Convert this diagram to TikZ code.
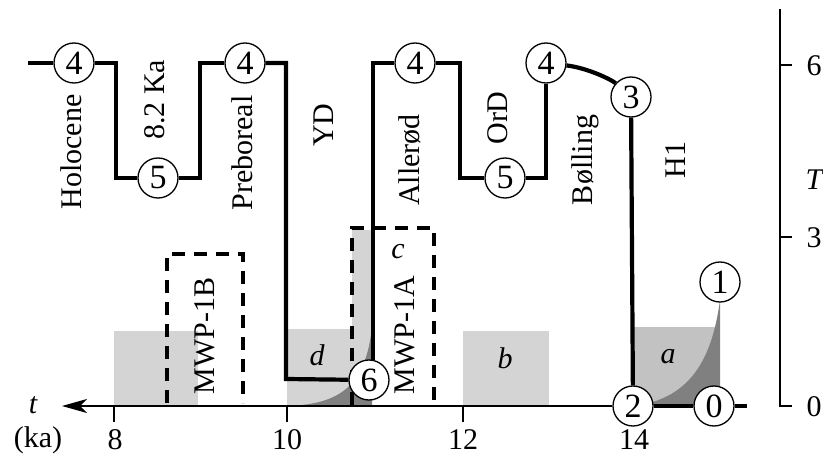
\documentclass[tikz,border=0pt]{standalone}
\usepackage{fontspec}
\setmainfont{Liberation Serif}
\usetikzlibrary{arrows.meta}
\definecolor{lightfill}{gray}{0.83}
\definecolor{midfill}{gray}{0.76}
\definecolor{darkfill}{gray}{0.5}
\begin{document}
\begin{tikzpicture}[x=1pt,y=-1pt,
  font=\fontsize{30}{36}\selectfont,
  num/.style={circle,draw,line width=1.3pt,fill=white,minimum size=40pt,inner sep=0pt,
    font=\fontsize{34}{36}\selectfont},
  trace/.style={line width=4.2pt},
  mwp/.style={line width=3.4pt,dash pattern=on 13pt off 9pt},
  vlabel/.style={rotate=90,inner sep=0pt},
  axisline/.style={line width=1.4pt},
  plain/.style={inner sep=0pt}]
\useasboundingbox (0,0) rectangle (823,468);

% shaded intervals
\fill[lightfill] (114,331) rectangle (198,406);
\fill[lightfill] (463,331) rectangle (549,406);
\fill[lightfill] (287,329) rectangle (372,406);
\fill[lightfill] (352,230) rectangle (372,406);
\fill[darkfill] (288,406) .. controls (338,404) and (366,388) .. (372,326) -- (372,406) -- cycle;
\fill[midfill] (633,327) rectangle (720,406);
\fill[darkfill] (640,405) .. controls (690,396) and (712,360) .. (720,300) -- (720,406) -- cycle;

% meltwater pulse windows
\draw[mwp] (167,403) -- (167,254) -- (243,254) -- (243,403);
\draw[mwp] (352,405) -- (352,228) -- (434,228) -- (434,405);

% circled states
\node[num] (n4a) at (74,63) {4};
\node[num] (n5a) at (158,178) {5};
\node[num] (n4b) at (245,63) {4};
\node[num] (n6)  at (369,380) {6};
\node[num] (n4c) at (415,63) {4};
\node[num] (n5b) at (505,178) {5};
\node[num] (n4d) at (546,63) {4};
\node[num] (n3)  at (631,97) {3};
\node[num] (n2)  at (633,406) {2};
\node[num] (n0)  at (714,406) {0};
\node[num] (n1)  at (720,282) {1};

\coordinate (start) at (28,63);
\coordinate (stub) at (747,406);
\coordinate (tend) at (62,406);

% temperature trace
\draw[trace] (start) -- (n4a);
\draw[trace] (n4a) -- (116,63) -- (116,178) -- (n5a);
\draw[trace] (n5a) -- (200,178) -- (200,63) -- (n4b);
\draw[trace] (n4b) -- (286,63) -- (286,379) -- (n6);
\draw[trace] (n6.78) |- (n4c);
\draw[trace] (n4c) -- (460,63) -- (460,178) -- (n5b);
\draw[trace] (n5b) -| (n4d);
\draw[trace] (n4d) .. controls (588,68) and (612,80) .. (n3);
\draw[trace] (n3) -- (n2);
\draw[trace] (n2) -- (n0);
\draw[trace] (n0) -- (stub);

% time axis
\draw[axisline,-{Stealth[length=25pt,width=14pt,inset=7pt]}] (n2) -- (tend);
\foreach \x in {114,287,463} \draw[axisline] (\x,406) -- (\x,422);
\node[plain] (tlab) at (33,405) {\itshape t};
\node[plain] (kalab) at (38,440) {(ka)};
\node[plain] (l8) at (115,440) {8};
\node[plain] (l10) at (287,440) {10};
\node[plain] (l12) at (463,440) {12};
\node[plain] (l14) at (634,440) {14};

% temperature axis
\draw[axisline] (780,9) -- (780,406) -- (792,406);
\draw[axisline] (780,65) -- (792,65);
\draw[axisline] (780,237) -- (792,237);
\node[plain] (y6) at (814,66) {6};
\node[plain] (y3) at (814,238) {3};
\node[plain] (y0) at (814,407) {0};
\node[plain] (Tlab) at (814,180) {\itshape T};

% period names
\node[vlabel] (hol) at (71,152) {Holocene};
\node[vlabel] (ka82) at (155,100) {8.2 Ka};
\node[vlabel] (pre) at (242,153) {Preboreal};
\node[vlabel] (yd) at (324,125) {YD};
\node[vlabel] (all) at (410,160) {Allerød};
\node[vlabel] (ord) at (498,118) {OrD};
\node[vlabel] (bol) at (585,160) {Bølling};
\node[vlabel] (h1) at (676,160) {H1};
\node[vlabel] (m1b) at (205,336) {MWP-1B};
\node[vlabel] (m1a) at (405,335) {MWP-1A};

% interval letters
\node[plain] (lc) at (398,252) {\itshape c};
\node[plain] (ld) at (317,355) {\itshape d};
\node[plain] (lb) at (505,358) {\itshape b};
\node[plain] (la) at (668,357) {\itshape a};
\end{tikzpicture}
\end{document}
